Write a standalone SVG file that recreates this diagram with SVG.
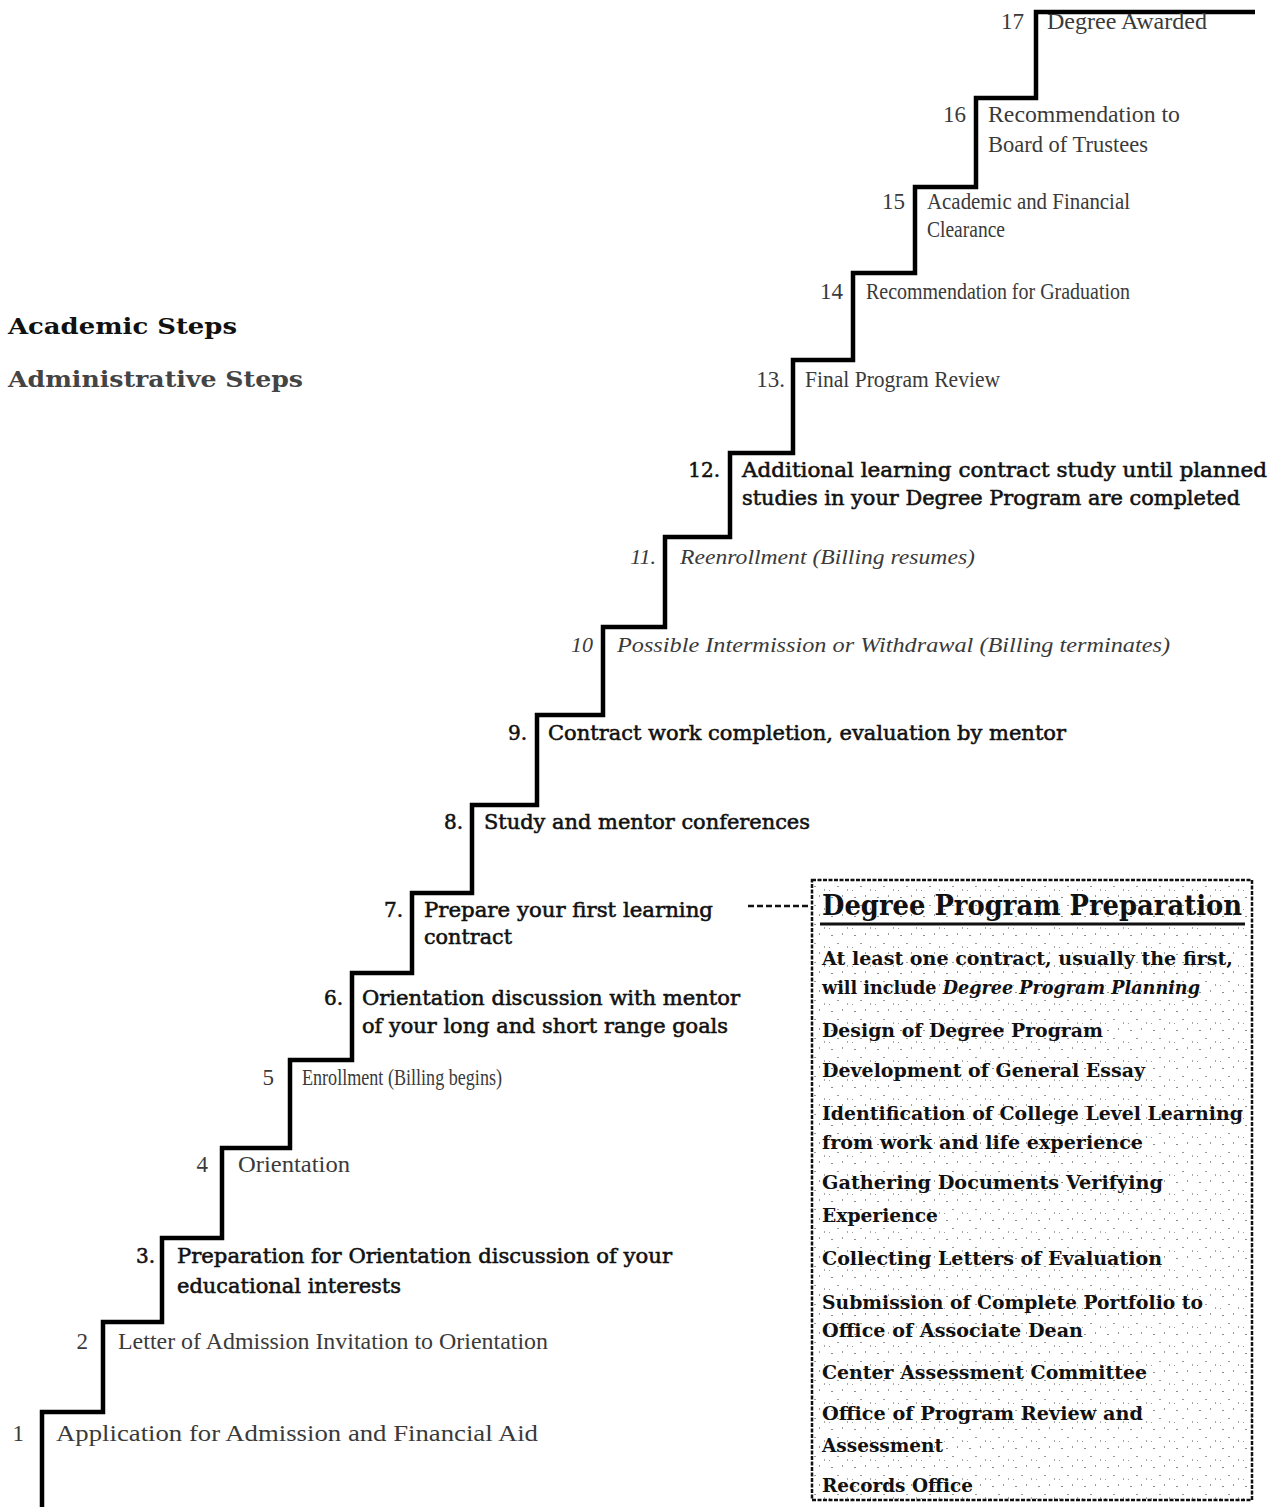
<svg xmlns="http://www.w3.org/2000/svg" width="1282" height="1507" viewBox="0 0 1282 1507">
<style>
.ac{font-family:"DejaVu Serif","Liberation Serif",serif;font-size:20px;fill:#111;stroke:#111;stroke-width:0.55}
.ad{font-family:"Liberation Serif","DejaVu Serif",serif;font-size:23px;fill:#3a3a3a}
.it{font-family:"Liberation Serif","DejaVu Serif",serif;font-style:italic;font-size:22px;fill:#3a3a3a}
.num{text-anchor:end}
.bx{font-family:"DejaVu Serif","Liberation Serif",serif;font-weight:bold;font-size:19px;fill:#111}
.stair{fill:none;stroke:#000;stroke-width:4.5;stroke-linejoin:miter}
</style>
<defs>
<pattern id="speck" width="23" height="19" patternUnits="userSpaceOnUse">
<rect x="3" y="4" width="2" height="1" fill="#000" opacity="0.45"/>
<rect x="14" y="2" width="1" height="2" fill="#000" opacity="0.4"/>
<rect x="9" y="12" width="2" height="1" fill="#000" opacity="0.4"/>
<rect x="19" y="15" width="1" height="2" fill="#000" opacity="0.35"/>
<rect x="1" y="16" width="1" height="1" fill="#000" opacity="0.4"/>
</pattern>
</defs>
<rect width="1282" height="1507" fill="#fff"/>

<g id="legend">
<text x="8" y="334" style="font-family:'DejaVu Serif',serif;font-weight:bold;font-size:23px;fill:#111" textLength="229" lengthAdjust="spacingAndGlyphs">Academic Steps</text>
<text x="8" y="387" style="font-family:'DejaVu Serif',serif;font-weight:bold;font-size:23px;fill:#444" textLength="295" lengthAdjust="spacingAndGlyphs">Administrative Steps</text>
</g>

<g id="staircase">
<path class="stair" d="M42,1507 V1412 H103 V1322 H162 V1238 H222 V1148 H290 V1060 H352 V973 H412 V893 H472 V805 H537 V715 H603 V627 H665 V537 H730 V453 H793 V360 H853 V273 H915 V187 H976 V98 H1036 V12 H1255"/>
</g>

<g id="connectors">
<line x1="748" y1="906" x2="811" y2="906" stroke="#111" stroke-width="2.5" stroke-dasharray="6 3"/>
</g>

<g id="step-1">
<text class="ad num" x="24" y="1441">1</text>
<text class="ad" x="56" y="1441" textLength="482" lengthAdjust="spacingAndGlyphs">Application for Admission and Financial Aid</text>
</g>
<g id="step-2">
<text class="ad num" x="88" y="1349">2</text>
<text class="ad" x="118" y="1349" textLength="430" lengthAdjust="spacingAndGlyphs">Letter of Admission Invitation to Orientation</text>
</g>
<g id="step-3">
<text class="ac num" x="155" y="1263">3.</text>
<text class="ac" x="177" y="1263" textLength="495" lengthAdjust="spacingAndGlyphs">Preparation for Orientation discussion of your</text>
<text class="ac" x="177" y="1293" textLength="224" lengthAdjust="spacingAndGlyphs">educational interests</text>
</g>
<g id="step-4">
<text class="ad num" x="208" y="1172">4</text>
<text class="ad" x="238" y="1172" textLength="112" lengthAdjust="spacingAndGlyphs">Orientation</text>
</g>
<g id="step-5">
<text class="ad num" x="274" y="1085">5</text>
<text class="ad" x="302" y="1085" textLength="200" lengthAdjust="spacingAndGlyphs">Enrollment (Billing begins)</text>
</g>
<g id="step-6">
<text class="ac num" x="343" y="1005">6.</text>
<text class="ac" x="362" y="1005" textLength="378" lengthAdjust="spacingAndGlyphs">Orientation discussion with mentor</text>
<text class="ac" x="362" y="1033" textLength="366" lengthAdjust="spacingAndGlyphs">of your long and short range goals</text>
</g>
<g id="step-7">
<text class="ac num" x="403" y="917">7.</text>
<text class="ac" x="424" y="917" textLength="289" lengthAdjust="spacingAndGlyphs">Prepare your first learning</text>
<text class="ac" x="424" y="944" textLength="88" lengthAdjust="spacingAndGlyphs">contract</text>
</g>
<g id="step-8">
<text class="ac num" x="463" y="829">8.</text>
<text class="ac" x="484" y="829" textLength="326" lengthAdjust="spacingAndGlyphs">Study and mentor conferences</text>
</g>
<g id="step-9">
<text class="ac num" x="527" y="740">9.</text>
<text class="ac" x="548" y="740" textLength="518" lengthAdjust="spacingAndGlyphs">Contract work completion, evaluation by mentor</text>
</g>
<g id="step-10">
<text class="it num" x="593" y="652">10</text>
<text class="it" x="617" y="652" textLength="553" lengthAdjust="spacingAndGlyphs">Possible Intermission or Withdrawal (Billing terminates)</text>
</g>
<g id="step-11">
<text class="it num" x="656" y="564">11.</text>
<text class="it" x="680" y="564" textLength="295" lengthAdjust="spacingAndGlyphs">Reenrollment (Billing resumes)</text>
</g>
<g id="step-12">
<text class="ac num" x="720" y="477">12.</text>
<text class="ac" x="742" y="477" textLength="525" lengthAdjust="spacingAndGlyphs">Additional learning contract study until planned</text>
<text class="ac" x="742" y="505" textLength="498" lengthAdjust="spacingAndGlyphs">studies in your Degree Program are completed</text>
</g>
<g id="step-13">
<text class="ad num" x="785" y="387">13.</text>
<text class="ad" x="805" y="387" textLength="195" lengthAdjust="spacingAndGlyphs">Final Program Review</text>
</g>
<g id="step-14">
<text class="ad num" x="843" y="299">14</text>
<text class="ad" x="866" y="299" textLength="264" lengthAdjust="spacingAndGlyphs">Recommendation for Graduation</text>
</g>
<g id="step-15">
<text class="ad num" x="905" y="209">15</text>
<text class="ad" x="927" y="209" textLength="203" lengthAdjust="spacingAndGlyphs">Academic and Financial</text>
<text class="ad" x="927" y="237" textLength="78" lengthAdjust="spacingAndGlyphs">Clearance</text>
</g>
<g id="step-16">
<text class="ad num" x="966" y="122">16</text>
<text class="ad" x="988" y="122" textLength="192" lengthAdjust="spacingAndGlyphs">Recommendation to</text>
<text class="ad" x="988" y="152" textLength="160" lengthAdjust="spacingAndGlyphs">Board of Trustees</text>
</g>
<g id="step-17">
<text class="ad num" x="1024" y="29">17</text>
<text class="ad" x="1047" y="29" textLength="160" lengthAdjust="spacingAndGlyphs">Degree Awarded</text>
</g>

<g id="degree-program-preparation">
<rect x="812" y="880" width="440" height="620" fill="url(#speck)" stroke="#111" stroke-width="2.5" stroke-dasharray="4 1.5"/>
<text x="822" y="915" style="font-family:'DejaVu Serif',serif;font-weight:bold;font-size:27px;fill:#111" textLength="420" lengthAdjust="spacingAndGlyphs">Degree Program Preparation</text>
<line x1="820" y1="924" x2="1245" y2="924" stroke="#111" stroke-width="3"/>
<text class="bx" x="822" y="965" textLength="411" lengthAdjust="spacingAndGlyphs">At least one contract, usually the first,</text>
<text class="bx" x="822" y="994" textLength="378" lengthAdjust="spacingAndGlyphs">will include <tspan style="font-style:italic">Degree Program Planning</tspan></text>
<text class="bx" x="822" y="1037" textLength="281" lengthAdjust="spacingAndGlyphs">Design of Degree Program</text>
<text class="bx" x="822" y="1077" textLength="323" lengthAdjust="spacingAndGlyphs">Development of General Essay</text>
<text class="bx" x="822" y="1120" textLength="421" lengthAdjust="spacingAndGlyphs">Identification of College Level Learning</text>
<text class="bx" x="822" y="1149" textLength="321" lengthAdjust="spacingAndGlyphs">from work and life experience</text>
<text class="bx" x="822" y="1189" textLength="341" lengthAdjust="spacingAndGlyphs">Gathering Documents Verifying</text>
<text class="bx" x="822" y="1222" textLength="116" lengthAdjust="spacingAndGlyphs">Experience</text>
<text class="bx" x="822" y="1265" textLength="340" lengthAdjust="spacingAndGlyphs">Collecting Letters of Evaluation</text>
<text class="bx" x="822" y="1309" textLength="381" lengthAdjust="spacingAndGlyphs">Submission of Complete Portfolio to</text>
<text class="bx" x="822" y="1337" textLength="261" lengthAdjust="spacingAndGlyphs">Office of Associate Dean</text>
<text class="bx" x="822" y="1379" textLength="325" lengthAdjust="spacingAndGlyphs">Center Assessment Committee</text>
<text class="bx" x="822" y="1420" textLength="321" lengthAdjust="spacingAndGlyphs">Office of Program Review and</text>
<text class="bx" x="822" y="1452" textLength="121" lengthAdjust="spacingAndGlyphs">Assessment</text>
<text class="bx" x="822" y="1492" textLength="151" lengthAdjust="spacingAndGlyphs">Records Office</text>
</g>
</svg>
